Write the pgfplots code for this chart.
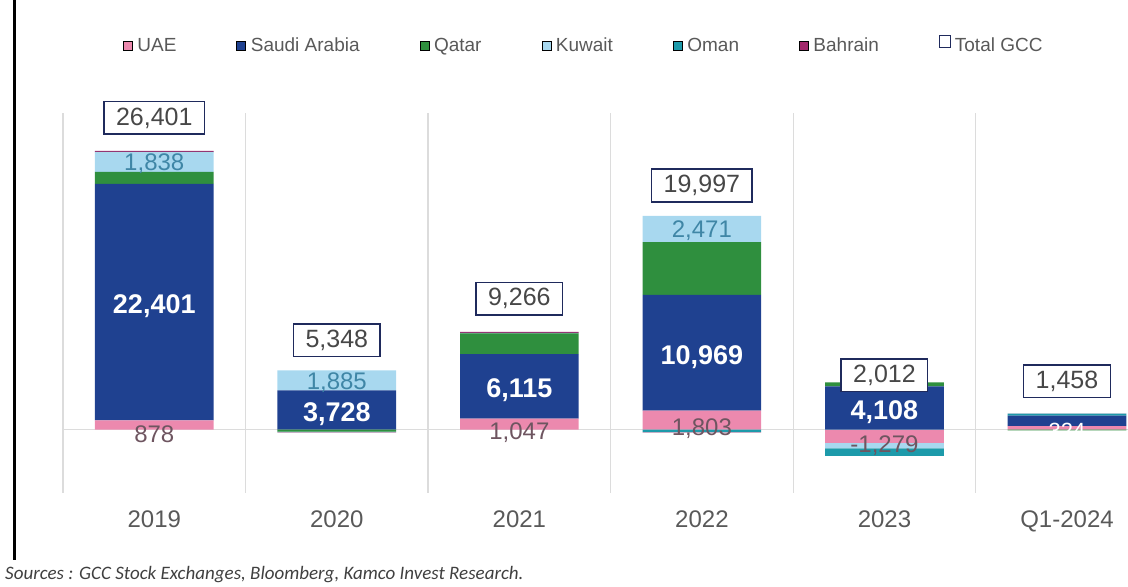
\documentclass[border=0pt]{standalone}
\usepackage{pgfplots}
\pgfplotsset{compat=1.18}
\usepackage{pgfplotstable}
\usepackage{fontspec}
\setmainfont{Liberation Sans}
\newfontfamily\srcfont{Carlito}

\definecolor{uae}{HTML}{EC89AE}
\definecolor{ksa}{HTML}{1F4190}
\definecolor{qat}{HTML}{2F8F3E}
\definecolor{kwt}{HTML}{A8D8EF}
\definecolor{omn}{HTML}{1D9AAA}
\definecolor{bhr}{HTML}{A3286C}
\definecolor{totc}{HTML}{1F2A5C}
\definecolor{txt}{HTML}{595959}
\definecolor{gridc}{HTML}{DCDCDC}
\definecolor{uaetxt}{HTML}{6E5560}
\definecolor{kwttxt}{HTML}{3F86A6}

% net foreign flows, positive and negative parts stacked separately (Excel style)
\pgfplotstableread{
x uae ksa qat kwt omn bhr
0 878 22401 1150 1838 60 74
1 0 3728 0 1885 0 0
2 1047 6115 1950 0 60 94
3 1803 10969 5000 2471 0 0
4 0 4108 383 0 0 0
5 324 1000 0 0 200 4
}\posflows
\pgfplotstableread{
x uae ksa qat kwt omn bhr
0 0 0 0 0 0 0
1 0 0 -180 0 -50 -35
2 0 0 0 0 0 0
3 0 0 0 0 -230 -16
4 -1279 0 0 -500 -700 0
5 0 0 -70 0 0 0
}\negflows

\newcommand\fs[1]{\fontsize{#1bp}{#1bp}\selectfont}

\pgfplotsset{
  base/.style={
    at={(63bp,94bp)}, anchor=south west, scale only axis,
    width=1065bp, height=380bp,
    xmin=-0.5, xmax=5.334, ymin=-6000, ymax=30000,
    scaled y ticks=false,
  },
  stk/.style={base, ybar stacked, bar width=0.65},
}

\begin{document}
\begin{tikzpicture}[x=1bp,y=1bp]
\begin{axis}[stk,
  axis line style={draw=none},
  xtick={0,...,5}, xticklabels={2019,2020,2021,2022,2023,Q1-2024},
  minor xtick={-0.5,0.5,...,4.5}, xminorgrids,
  minor grid style={gridc, line width=1.2bp},
  ytick={0}, yticklabels={}, ymajorgrids,
  major grid style={gridc, line width=1.2bp},
  major tick length=0pt, minor tick length=0pt,
  xticklabel style={font=\fs{24}, text=txt, yshift=-14bp},
]
\addplot[fill=uae, draw=none] table[x=x, y=uae] {\posflows};
\addplot[fill=ksa, draw=none] table[x=x, y=ksa] {\posflows};
\addplot[fill=qat, draw=none] table[x=x, y=qat] {\posflows};
\addplot[fill=kwt, draw=none] table[x=x, y=kwt] {\posflows};
\addplot[fill=omn, draw=none] table[x=x, y=omn] {\posflows};
\addplot[fill=bhr, draw=none] table[x=x, y=bhr] {\posflows};
\end{axis}

\begin{axis}[stk, hide axis]
\addplot[fill=uae, draw=none] table[x=x, y=uae] {\negflows};
\addplot[fill=ksa, draw=none] table[x=x, y=ksa] {\negflows};
\addplot[fill=qat, draw=none] table[x=x, y=qat] {\negflows};
\addplot[fill=kwt, draw=none] table[x=x, y=kwt] {\negflows};
\addplot[fill=omn, draw=none] table[x=x, y=omn] {\negflows};
\addplot[fill=bhr, draw=none] table[x=x, y=bhr] {\negflows};
\end{axis}

\begin{axis}[base, hide axis,
  legend columns=-1,
  legend style={at={(0.489,1.179)}, anchor=center, draw=none, fill=none,
    font=\fs{19}, text=txt,
    /tikz/every even column/.append style={column sep=58bp}},
  legend image code/.code={\fill[#1] (0bp,-4.5bp) rectangle (9bp,4.5bp); \path (0bp,0bp) (12bp,0bp);},
]
\addlegendimage{fill=uae}\addlegendentry{UAE}
\addlegendimage{fill=ksa}\addlegendentry{Saudi Arabia}
\addlegendimage{fill=qat}\addlegendentry{Qatar}
\addlegendimage{fill=kwt}\addlegendentry{Kuwait}
\addlegendimage{fill=omn}\addlegendentry{Oman}
\addlegendimage{fill=bhr}\addlegendentry{Bahrain}
\addlegendimage{legend image code/.code={\draw[totc, line width=1.5bp, fill=white] (0bp,-2bp) rectangle (11bp,10bp); \path (0bp,0bp) (13bp,0bp);}}\addlegendentry{Total GCC}
% Saudi labels
\addplot[draw=none, nodes near coords, point meta=explicit symbolic,
  nodes near coords style={anchor=center, yshift=-4bp, text=white, font=\fs{27}\bfseries}]
  table[meta=lab] {
x y lab
0 12078 22,401
1 1864 3,728
2 4105 6,115
3 7287 10,969
4 2054 4,108
};
% Kuwait labels
\addplot[draw=none, nodes near coords, point meta=explicit symbolic,
  nodes near coords style={anchor=center, yshift=-2bp, text=kwttxt, font=\fs{24}}]
  table[meta=lab] {
x y lab
0 25348 1,838
1 4670 1,885
3 19007 2,471
};
% UAE labels
\addplot[draw=none, nodes near coords, point meta=explicit symbolic,
  nodes near coords style={anchor=center, yshift=-9bp, text=uaetxt, font=\fs{24}}]
  table[meta=lab] {
x y lab
0 439 878
2 523 1,047
3 901 1,803
4 -640 -1,279
};
\addplot[draw=none, nodes near coords, point meta=explicit symbolic,
  nodes near coords style={anchor=center, yshift=-3bp, text=white, font=\fs{22}}]
  table[meta=lab] {
x y lab
5 162 324
};
% Total GCC boxes
\addplot[draw=none, nodes near coords, point meta=explicit symbolic,
  nodes near coords style={anchor=south, yshift=16bp, text=txt!80!black, font=\fs{25},
    draw=totc, line width=1.5bp, fill=white, inner xsep=12bp, inner ysep=6bp}]
  table[meta=lab] {
x y lab
0 26401 26,401
1 5348 5,348
2 9266 9,266
3 19997 19,997
4 2012 2,012
5 1458 1,458
};
\end{axis}

\draw[black, line width=3bp] (14,587) -- (14,27);
\node[anchor=west, inner sep=0pt, text=black!75] at (5,12)
  {\srcfont\itshape\fs{19}Sources : GCC Stock Exchanges, Bloomberg, Kamco Invest Research.};
\pgfresetboundingbox
\useasboundingbox (0,0) rectangle (1128,587);
\end{tikzpicture}
\end{document}
